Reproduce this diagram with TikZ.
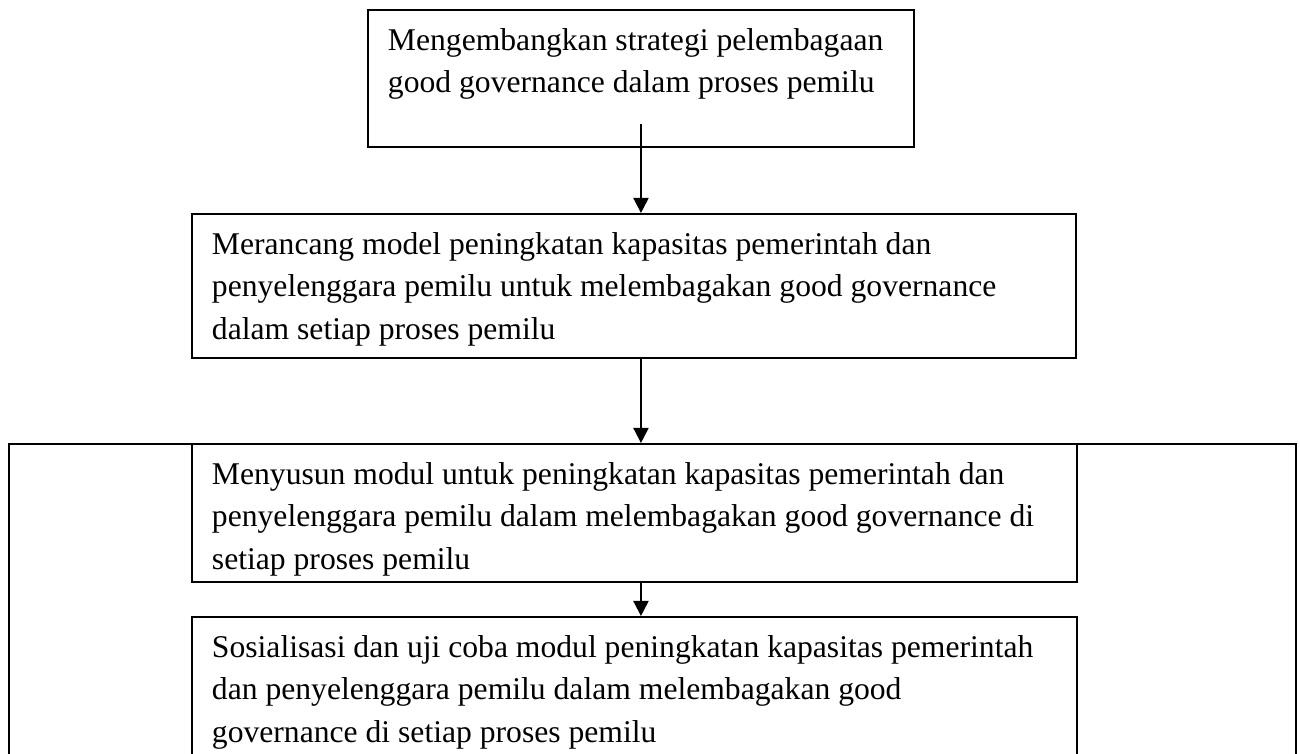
\documentclass[tikz,border=0pt]{standalone}
\usepackage{fontspec}
\setmainfont{Liberation Serif}
\usetikzlibrary{arrows.meta,positioning,calc}

\begin{document}
\begin{tikzpicture}[
    font=\fontsize{18pt}{24.2pt}\selectfont,
    stepbox/.style={draw=black, line width=1.1pt, anchor=north west, align=flush left, inner xsep=0.4cm, inner ysep=0pt, text height=0.81cm, text width=#1},
    frame/.style={draw=black, line width=1.1pt, anchor=north west, inner sep=0pt},
    arrow/.style={-{Triangle[length=0.3cm, width=0.3cm]}, line width=1.1pt, draw=black}
]
\clip (0,0) rectangle (26,-15.08);

\node[frame, minimum width=25.74cm, minimum height=7.2cm] (group) at (0.16,-8.86) {};

\node[stepbox=10.12cm, text depth=1.94cm] (strategi) at (7.34,-0.18) {Mengembangkan strategi pelembagaan\\good governance dalam proses pemilu};
\node[stepbox=16.88cm, text depth=2.08cm] (model) at (3.82,-4.26) {Merancang model peningkatan kapasitas pemerintah dan\\penyelenggara pemilu untuk melembagakan good governance\\dalam setiap proses pemilu};
\node[stepbox=16.9cm, text depth=1.96cm] (modul) at (3.82,-8.86) {Menyusun modul untuk peningkatan kapasitas pemerintah dan\\penyelenggara pemilu dalam melembagakan good governance di\\setiap proses pemilu};
\node[stepbox=16.9cm, text depth=2.2cm] (sosial) at (3.82,-12.32) {Sosialisasi dan uji coba modul peningkatan kapasitas pemerintah\\dan penyelenggara pemilu dalam melembagakan good\\governance di setiap proses pemilu};

\draw[arrow] ([yshift=0.48cm]strategi.south) -- (strategi.south |- model.north);
\draw[arrow] (strategi.south |- model.south) -- (strategi.south |- modul.north);
\draw[arrow] (strategi.south |- modul.south) -- (strategi.south |- sosial.north);
\end{tikzpicture}
\end{document}
